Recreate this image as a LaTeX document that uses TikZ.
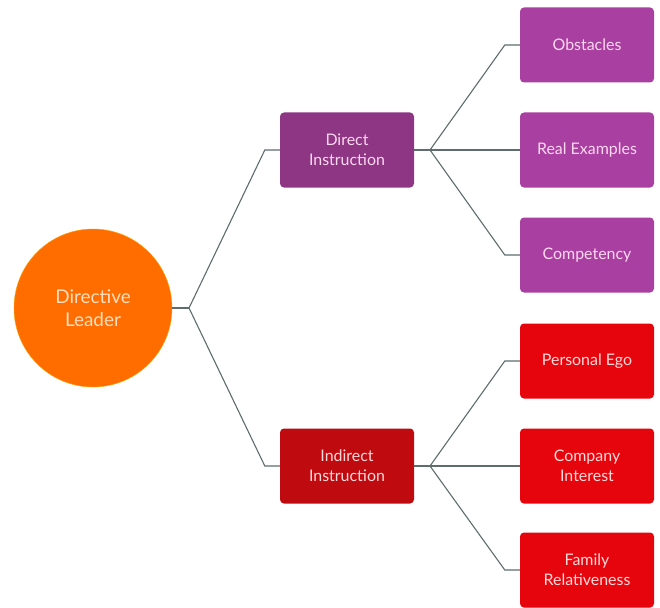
\documentclass[tikz,border=0pt]{standalone}
\usepackage{fontspec}
\setmainfont{Lato}
\definecolor{leadorange}{HTML}{FF6C00}
\definecolor{dirpurple}{HTML}{8E3584}
\definecolor{subpurple}{HTML}{AA3FA2}
\definecolor{indred}{HTML}{BF0A10}
\definecolor{subred}{HTML}{E6050D}
\definecolor{linkgray}{HTML}{5E6C6B}
\begin{document}
\begin{tikzpicture}[x=1bp,y=-1bp,
    box/.style={rounded corners=4bp,minimum width=134bp,minimum height=75bp,align=center,font=\fontsize{16}{20}\selectfont},
    link/.style={draw=linkgray,line width=1.1bp}]
  \useasboundingbox (0,0) rectangle (660,608);
  \node[circle,fill=leadorange,draw=orange!70!yellow,minimum size=158bp,align=center,text=orange!25!white,font=\fontsize{19}{23}\selectfont] (lead) at (93,308) {Directive\\Leader};
  \node[box,fill=dirpurple,text=magenta!15!white] (dir) at (347,150) {Direct\\Instruction};
  \node[box,fill=indred,text=red!15!white] (ind) at (347,466) {Indirect\\Instruction};
  % direct branch
  \node[box,fill=subpurple,text=magenta!15!white] (obs) at (587,45) {Obstacles};
  \node[box,fill=subpurple,text=magenta!15!white] (real) at (587,150) {Real Examples};
  \node[box,fill=subpurple,text=magenta!15!white] (comp) at (587,255) {Competency};
  % indirect branch
  \node[box,fill=subred,text=red!15!white] (ego) at (587,361) {Personal Ego};
  \node[box,fill=subred,text=red!15!white] (firm) at (587,466) {Company\\Interest};
  \node[box,fill=subred,text=red!15!white] (fam) at (587,570) {Family\\Relativeness};
  \coordinate (j0) at (189,308);
  \coordinate (j1) at (430,150);
  \coordinate (j2) at (430,466);
  \draw[link] (lead.east) -- (j0);
  \draw[link] (j0) -- ([xshift=-15bp]dir.west) -- (dir.west);
  \draw[link] (j0) -- ([xshift=-15bp]ind.west) -- (ind.west);
  \draw[link,line width=1.8bp] (dir.east) -- (j1);
  \draw[link] (j1) -- ([xshift=-15bp]obs.west) -- (obs.west);
  \draw[link] (j1) -- (real.west);
  \draw[link] (j1) -- ([xshift=-15bp]comp.west) -- (comp.west);
  \draw[link,line width=1.8bp] (ind.east) -- (j2);
  \draw[link] (j2) -- ([xshift=-15bp]ego.west) -- (ego.west);
  \draw[link] (j2) -- (firm.west);
  \draw[link] (j2) -- ([xshift=-15bp]fam.west) -- (fam.west);
\end{tikzpicture}
\end{document}
